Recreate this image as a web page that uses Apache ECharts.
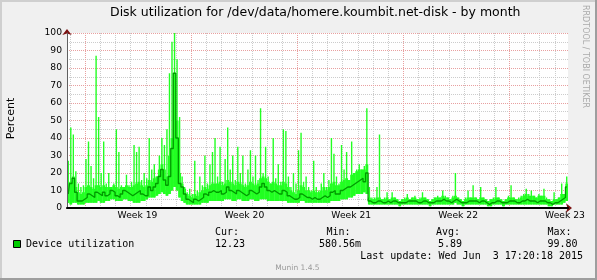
<!DOCTYPE html>
<html><head><meta charset="utf-8">
<script src="https://cdn.jsdelivr.net/npm/echarts@6/dist/echarts.min.js"></script>
<style>html,body{margin:0;padding:0;background:#f0f0f0}#c{width:597px;height:280px}</style>
</head><body><div id="c"></div>
<script>
// ---- data ----
// per 4-hour column: spike top, dense band top, band bottom, average line
const hiVals = [
 27,46,42,21,14,12,13,28,38,24,17,87,52,
 20,38,14,20,12,14,45,32,13,12,19,13,15,36,32,
 35,16,20,17,40,22,25,18,30,40,36,45,
 77,95,100,85,52,
 18,12,9,11,8,27,10,18,13,30,14,25,32,40,
 18,35,15,28,46,22,30,16,35,20,30,14,22,33,18,30,16,
 57,20,35,18,14,40,17,25,15,45,44,18,12,20,14,33,
 43,15,18,12,10,27,12,10,14,20,12,16,40,31,18,14,36,22,32,16,38,20,22,25,22,24,57,12,6,
 6,12,42,5,6,9,5,9,6,5,
 4,5,6,8,5,6,7,5,6,9,
 6,5,4,5,6,7,6,10,7,6,
 5,7,20,6,5,4,6,10,6,13,
 6,5,12,6,5,4,5,6,12,6,
 5,4,5,7,13,6,5,6,7,8,
 11,8,10,7,6,8,7,11,6,5,
 4,9,5,6,14,8,18
];
const bandVals = [
 14,15,18,12,9,8,9,12,13,12,11,13,13,
 12,13,12,12,13,13,12,11,12,14,13,12,12,13,14,
 15,13,12,13,16,15,17,18,22,25,22,18,
 30,40,77,50,20,
 14,11,8,7,6,8,7,9,10,12,11,13,14,14,
 14,15,13,14,16,15,14,13,15,14,13,12,13,15,14,13,14,
 17,18,17,15,14,15,14,13,13,15,14,12,10,9,8,10,
 13,12,10,10,9,10,9,9,10,12,10,12,14,15,13,13,15,16,17,17,19,20,21,22,24,22,25,6,5,
 5,6,6,5,5,6,5,6,6,5,
 4,5,5,6,6,6,6,5,5,6,
 6,5,4,5,6,6,6,7,6,6,
 5,6,7,6,5,4,5,6,6,6,
 6,5,6,6,5,4,5,5,6,6,
 5,4,5,6,6,6,5,5,6,7,
 8,7,7,7,6,7,7,7,5,5,
 4,5,5,6,8,9,14
];
const loVals = [
 3,2,3,3,2,2,2,3,3,3,3,3,4,
 3,3,4,4,5,5,4,4,4,5,5,4,4,3,3,
 3,4,4,5,6,6,6,7,8,9,8,7,
 8,10,12,10,6,
 4,3,2,2,2,2,2,2,3,3,3,4,4,4,
 4,4,4,5,5,5,4,4,5,5,4,4,4,5,5,4,4,
 5,5,5,4,4,4,4,4,4,4,4,3,3,3,3,3,
 4,4,3,3,3,3,3,3,3,3,3,3,4,4,4,4,5,5,5,6,6,7,8,8,8,9,8,2,2,
 2,2,2,2,2,2,2,2,2,2,
 1,2,2,2,2,2,2,2,2,2,
 2,2,1,2,2,2,2,2,2,2,
 2,2,3,2,2,1,2,2,2,2,
 2,2,2,2,2,1,1,2,2,2,
 2,1,2,2,2,2,2,2,2,2,
 2,2,2,2,2,2,2,2,2,1,
 1,2,2,2,2,3,4
];
const avgVals = [
 8,14,17,9,4,4,5,6,8,7,6,9,8,
 7,9,7,8,10,9,7,6,8,10,9,8,7,8,9,
 10,8,7,7,12,10,12,14,18,22,16,13,
 18,34,77,40,14,
 12,8,5,4,3,5,4,5,6,8,7,9,10,9,
 9,10,8,9,12,10,9,8,10,9,8,7,8,10,9,8,9,
 12,14,12,10,9,10,9,8,8,10,9,7,6,5,5,6,
 8,7,6,6,5,6,5,5,6,7,6,7,9,10,8,8,10,11,12,12,13,14,15,16,17,15,20,4,3,
 3,4,4,3,3,4,3,4,4,3,
 3,3,3,4,4,4,4,3,3,4,
 4,3,3,3,4,4,4,5,4,4,
 3,4,5,4,3,3,3,4,4,4,
 4,3,4,4,3,2,3,3,4,4,
 3,3,3,4,4,4,3,3,4,4,
 5,4,4,4,3,4,4,4,3,3,
 2,3,3,4,5,6,12
];
const weekLabels = ['Week 19','Week 20','Week 21','Week 22','Week 23'];
const legendHeaders = ['Cur:','Min:','Avg:','Max:'];
const legendValues = ['12.23','580.56m','5.89','99.80'];
const seriesName = 'Device utilization';
const lastUpdate = 'Last update: Wed Jun  3 17:20:18 2015';
const titleText = 'Disk utilization for /dev/data/homere.koumbit.net-disk - by month';

// ---- chart ----
const FONT = 'DejaVu Sans', MONO = 'DejaVu Sans Mono';
const DAY = 15.15;
const cats = hiVals.map((_, i) => i);
const bandTop = bandVals.map((b, i) => Math.min(b, hiVals[i]) - loVals[i]);
const spikeTop = hiVals.map((h, i) => h - loVals[i]);
const T = 33, H = 175;
const off = {show:false};
const bare = (extra) => Object.assign({axisLine:{show:false,onZero:false}, axisTick:off, axisLabel:off, splitLine:off}, extra);
const BRIGHT = '#22ff22';

const chart = echarts.init(document.getElementById('c'));
const mono = (text, x, y, align) => ({type:'text', x, y, silent:true,
  style:{text, font:'10px "DejaVu Sans Mono"', fill:'#000', align:align||'left', textAlign:align||'left', verticalAlign:'middle', textVerticalAlign:'middle'}});
chart.setOption({
  animation: false,
  backgroundColor: '#f0f0f0',
  title: {text: titleText, left: 110, top: 6, padding: 0,
    textStyle: {fontFamily: FONT, fontSize: 12.5, fontWeight: 'normal', color: '#000'}},
  grid: [
    {left:67, top:T, width:501, height:H, show:true, backgroundColor:'#fff', borderWidth:0, z:-1},
    {left:67, top:T, width:501, height:H},
    {left:70, top:T, width:32*DAY, height:H},
    {left:85.3, top:T, width:28*DAY, height:H},
    {left:137.5, top:T, width:427.5, height:H},
    {left:67, top:T, width:501, height:H},
    {left:67, top:T, width:501, height:H},
    {left:67, top:T, width:501, height:H}
  ],
  xAxis: [
    {type:'category', gridIndex:0, data:cats, boundaryGap:true,
      axisLine:{show:true, onZero:false, lineStyle:{color:'#000', width:2}}, axisTick:off, axisLabel:off, splitLine:off, z:3},
    bare({type:'value', gridIndex:1, min:0, max:1}),
    bare({type:'value', gridIndex:2, min:0, max:32, interval:1,
      splitLine:{show:true, lineStyle:{color:'#cccccc', width:1, type:[1,1]}}, z:0}),
    bare({type:'value', gridIndex:3, min:0, max:28, interval:7,
      splitLine:{show:true, lineStyle:{color:'#e8a0a0', width:1, type:[1,1]}}, z:0.5}),
    bare({type:'value', gridIndex:4, min:0, max:28, interval:7,
      axisLabel:{show:true, margin:3, fontFamily:FONT, fontSize:9.2, color:'#000',
        formatter: v => weekLabels[Math.round(v/7)]}}),
    bare({type:'value', gridIndex:5, min:0, max:1}),
    bare({type:'value', gridIndex:6, min:0, max:1,
      axisLine:{show:true, onZero:false, lineStyle:{color:'#7a1010', width:1}, symbol:['none','arrow'], symbolSize:[7,6], symbolOffset:[0,4]}, z:2.9}),
    bare({type:'category', gridIndex:7, data:cats, boundaryGap:true})
  ],
  yAxis: [
    bare({type:'value', gridIndex:0, min:0, max:100, interval:10,
      axisLabel:{show:true, margin:5, fontFamily:FONT, fontSize:9.2, color:'#000'},
      splitLine:{show:true, lineStyle:{color:'#e8a0a0', width:1, type:[1,1]}}, z:0.5}),
    bare({type:'value', gridIndex:1, min:0, max:100, interval:5,
      splitLine:{show:true, lineStyle:{color:'#cccccc', width:1, type:[1,1]}}, z:0}),
    bare({type:'value', gridIndex:2, min:0, max:100}),
    bare({type:'value', gridIndex:3, min:0, max:100}),
    bare({type:'value', gridIndex:4, min:0, max:100}),
    bare({type:'value', gridIndex:5, min:0, max:100,
      axisLine:{show:true, onZero:false, lineStyle:{color:'#606060', width:1}}, z:3}),
    bare({type:'value', gridIndex:6, min:0, max:100,
      axisLine:{show:true, onZero:false, lineStyle:{color:'#7a1010', width:1}, symbol:['none','arrow'], symbolSize:[7,6], symbolOffset:[0,4]}, z:2.9}),
    bare({type:'value', gridIndex:7, min:0, max:100})
  ],
  series: [
    {type:'bar', xAxisIndex:0, yAxisIndex:0, stack:'band', data:loVals, barWidth:2.9, barCategoryGap:'0%',
      itemStyle:{color:'rgba(0,0,0,0)'}, silent:true, z:2},
    {type:'bar', xAxisIndex:0, yAxisIndex:0, stack:'band', data:bandTop, barWidth:2.9, barCategoryGap:'0%',
      itemStyle:{color:BRIGHT}, silent:true, z:2},
    {type:'bar', xAxisIndex:7, yAxisIndex:7, stack:'spike', data:loVals, barWidth:1.4, barCategoryGap:'0%',
      itemStyle:{color:'rgba(0,0,0,0)'}, silent:true, z:2},
    {type:'bar', xAxisIndex:7, yAxisIndex:7, stack:'spike', data:spikeTop, barWidth:1.4, barCategoryGap:'0%',
      itemStyle:{color:BRIGHT}, silent:true, z:2},
    {type:'line', xAxisIndex:0, yAxisIndex:0, data:avgVals, step:'middle', showSymbol:false,
      lineStyle:{color:'#009a00', width:1.3}, silent:true, z:2.5}
  ],
  graphic: [
    {type:'rect', shape:{x:0,y:0,width:597,height:2}, style:{fill:'#cfcfcf'}, silent:true},
    {type:'rect', shape:{x:0,y:0,width:2,height:280}, style:{fill:'#cfcfcf'}, silent:true},
    {type:'rect', shape:{x:595,y:0,width:2,height:280}, style:{fill:'#9e9e9e'}, silent:true},
    {type:'rect', shape:{x:0,y:278,width:597,height:2}, style:{fill:'#9e9e9e'}, silent:true},
    {type:'text', x:11.5, y:118.5, rotation:Math.PI/2, silent:true,
      style:{text:'Percent', font:'11px "DejaVu Sans"', fill:'#000', align:'center', verticalAlign:'middle', textAlign:'center', textVerticalAlign:'middle'}},
    {type:'text', x:585.5, y:56.5, rotation:-Math.PI/2, silent:true,
      style:{text:'RRDTOOL / TOBI OETIKER', font:'8px "DejaVu Sans"', fill:'#aaaaaa', align:'center', verticalAlign:'middle', textAlign:'center', textVerticalAlign:'middle'}},
    {type:'rect', shape:{x:13.5,y:240.5,width:7,height:7}, style:{fill:'#00cc00', stroke:'#000', lineWidth:1}, silent:true},
    mono(seriesName, 26, 244),
    mono(legendHeaders[0], 215, 232),
    mono(legendHeaders[1], 326.5, 232),
    mono(legendHeaders[2], 436, 232),
    mono(legendHeaders[3], 547.5, 232),
    mono(legendValues[0], 215, 244),
    mono(legendValues[1], 319, 244),
    mono(legendValues[2], 438, 244),
    mono(legendValues[3], 547.5, 244),
    mono(lastUpdate, 583, 256, 'right'),
    {type:'text', x:297.5, y:268, silent:true, style:{text:'Munin 1.4.5', font:'7.5px "DejaVu Sans"', fill:'#999999', align:'center', textAlign:'center', verticalAlign:'middle', textVerticalAlign:'middle'}}
  ]
});
</script></body></html>
